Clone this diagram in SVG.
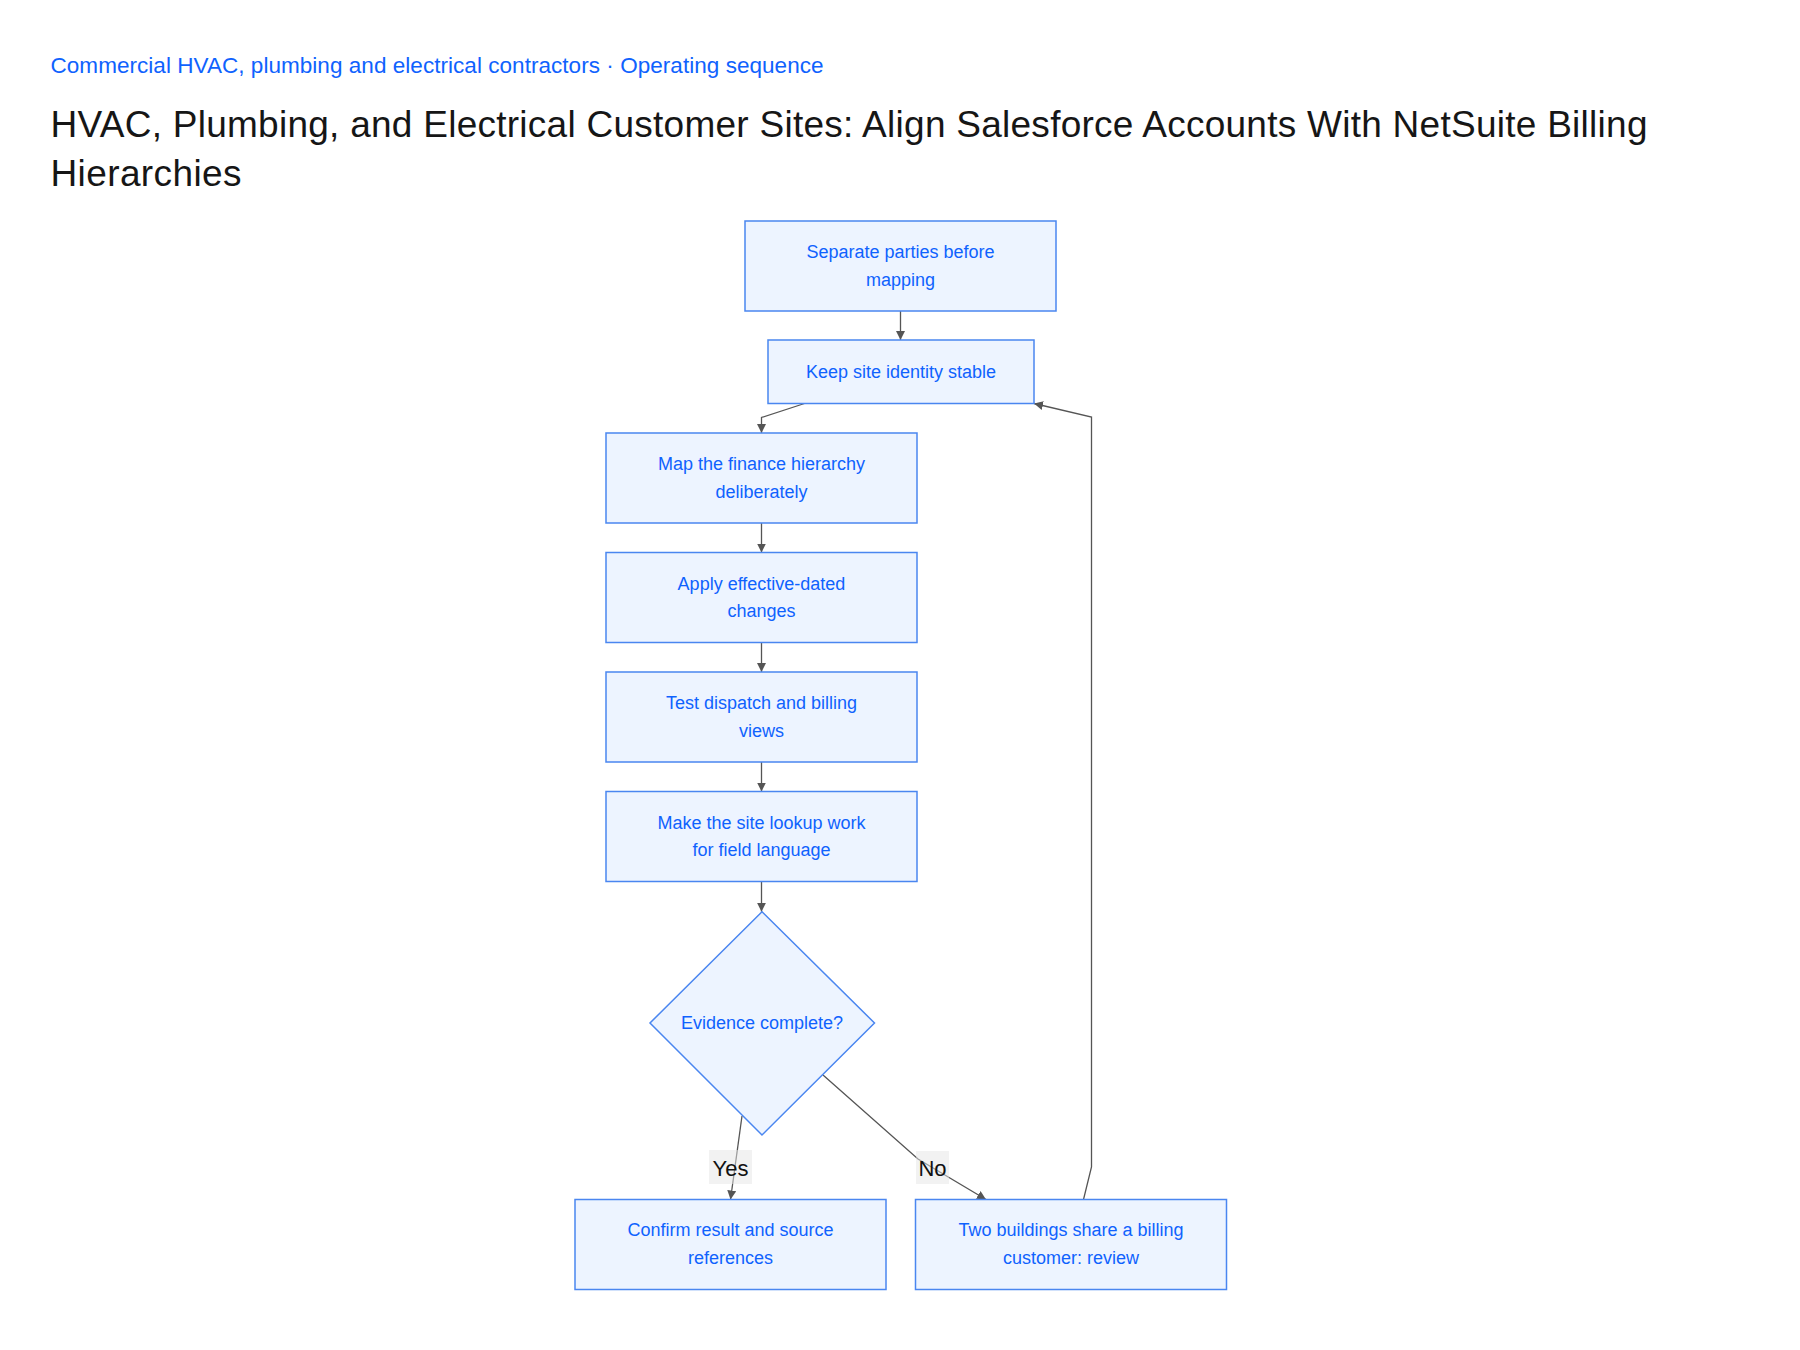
<svg xmlns="http://www.w3.org/2000/svg" width="1800" height="1350" viewBox="0 0 1800 1350">
<defs>
<style>
.bg{fill:#ffffff}
.sub{font-family:"Liberation Sans",Arial,sans-serif;font-size:22.5px;fill:#0f62fe}
.title{font-family:"Liberation Sans",Arial,sans-serif;font-size:37px;fill:#161616}
.box{fill:#edf4ff;stroke:#4a86f0;stroke-width:1.5}
.lbl{font-family:"Liberation Sans",Arial,sans-serif;font-size:18px;fill:#0f62fe;text-anchor:middle}
.edge{fill:none;stroke:#555555;stroke-width:1.3}
.elbg{fill:#e6e6e6;fill-opacity:0.5}
.eltx{font-family:"Liberation Sans",Arial,sans-serif;font-size:22px;fill:#111111;text-anchor:middle}
</style>
<marker id="arr" markerUnits="userSpaceOnUse" viewBox="0 0 10 10" refX="10" refY="5" markerWidth="9" markerHeight="9" orient="auto">
<path d="M0,0 L10,5 L0,10 z" fill="#555555"/>
</marker>
</defs>
<rect class="bg" x="0" y="0" width="1800" height="1350"/>
<g id="header">
<text class="sub" x="50.5" y="73" textLength="773">Commercial HVAC, plumbing and electrical contractors · Operating sequence</text>
<text class="title" x="50.5" y="137" textLength="1597">HVAC, Plumbing, and Electrical Customer Sites: Align Salesforce Accounts With NetSuite Billing</text>
<text class="title" x="50.5" y="186" textLength="191">Hierarchies</text>
</g>
<g id="connectors">
<path class="edge" d="M900.5,311 L900.5,340" marker-end="url(#arr)"/>
<path class="edge" d="M804.5,403.5 L761.5,417.5 L761.5,433" marker-end="url(#arr)"/>
<path class="edge" d="M761.5,523 L761.5,552.5" marker-end="url(#arr)"/>
<path class="edge" d="M761.5,642.5 L761.5,672" marker-end="url(#arr)"/>
<path class="edge" d="M761.5,762 L761.5,791.5" marker-end="url(#arr)"/>
<path class="edge" d="M761.5,881.5 L761.5,911.7" marker-end="url(#arr)"/>
<path class="edge" d="M742,1116 L730.5,1199.5" marker-end="url(#arr)"/>
<path class="edge" d="M823,1075 L918,1159 L986,1199.5" marker-end="url(#arr)"/>
<path class="edge" d="M1083.5,1199.5 L1091.5,1167 L1091.5,417 L1034,403.5" marker-end="url(#arr)"/>
<g id="label-yes">
<rect class="elbg" x="709" y="1150" width="43" height="34"/>
<text class="eltx" x="730.5" y="1176">Yes</text>
</g>
<g id="label-no">
<rect class="elbg" x="916" y="1151" width="33" height="33"/>
<text class="eltx" x="932.5" y="1176">No</text>
</g>
</g>
<g id="n1">
<rect class="box" x="745" y="221" width="311" height="90"/>
<text class="lbl" x="900.5" y="258">Separate parties before</text>
<text class="lbl" x="900.5" y="286">mapping</text>
</g>
<g id="n2">
<rect class="box" x="768" y="340" width="266" height="63.5"/>
<text class="lbl" x="901" y="378">Keep site identity stable</text>
</g>
<g id="n3">
<rect class="box" x="606" y="433" width="311" height="90"/>
<text class="lbl" x="761.5" y="470">Map the finance hierarchy</text>
<text class="lbl" x="761.5" y="498">deliberately</text>
</g>
<g id="n4">
<rect class="box" x="606" y="552.5" width="311" height="90"/>
<text class="lbl" x="761.5" y="589.5">Apply effective-dated</text>
<text class="lbl" x="761.5" y="617">changes</text>
</g>
<g id="n5">
<rect class="box" x="606" y="672" width="311" height="90"/>
<text class="lbl" x="761.5" y="709">Test dispatch and billing</text>
<text class="lbl" x="761.5" y="736.5">views</text>
</g>
<g id="n6">
<rect class="box" x="606" y="791.5" width="311" height="90"/>
<text class="lbl" x="761.5" y="828.5">Make the site lookup work</text>
<text class="lbl" x="761.5" y="856">for field language</text>
</g>
<g id="n7">
<polygon class="box" points="762,911.7 874.5,1023 762,1135 650,1023"/>
<text class="lbl" x="762" y="1029">Evidence complete?</text>
</g>
<g id="n8">
<rect class="box" x="575" y="1199.5" width="311" height="90"/>
<text class="lbl" x="730.5" y="1236">Confirm result and source</text>
<text class="lbl" x="730.5" y="1263.5">references</text>
</g>
<g id="n9">
<rect class="box" x="915.5" y="1199.5" width="311" height="90"/>
<text class="lbl" x="1071" y="1236">Two buildings share a billing</text>
<text class="lbl" x="1071" y="1263.5">customer: review</text>
</g>
</svg>
